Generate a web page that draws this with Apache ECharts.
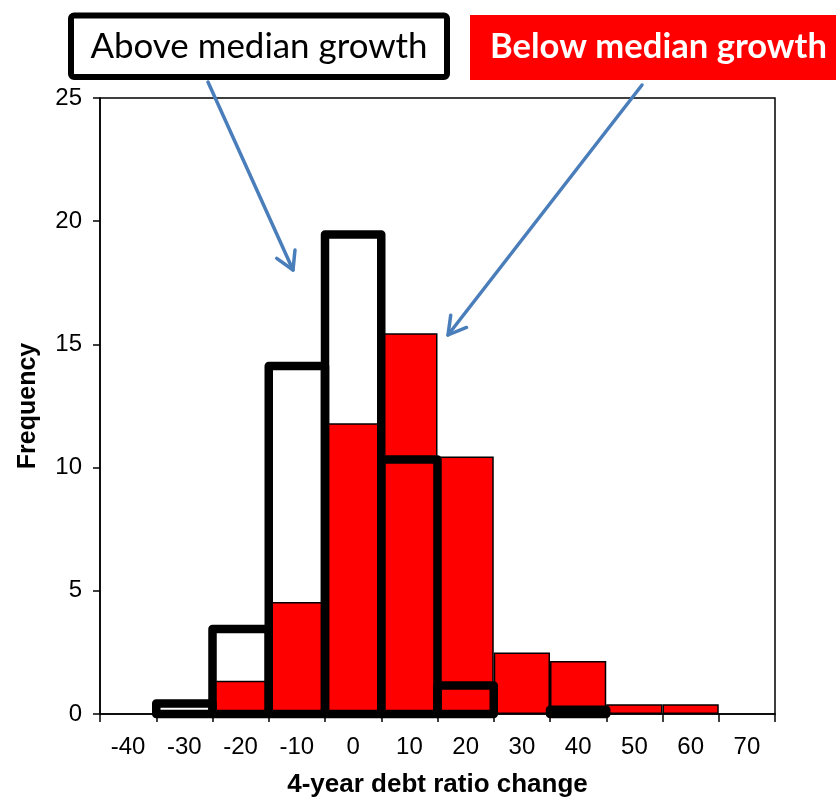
<!DOCTYPE html>
<html>
<head>
<meta charset="utf-8">
<script src="https://cdn.jsdelivr.net/npm/echarts@6/dist/echarts.min.js"></script>
<style>
  html, body { margin: 0; padding: 0; background: #fff; overflow: hidden; }
  #chart { width: 836px; height: 797px; }
</style>
</head>
<body>
<div id="chart"></div>
<script>
// Bin centres of the 4-year change in the debt ratio (percentage points)
const bins = ['-40', '-30', '-20', '-10', '0', '10', '20', '30', '40', '50', '60', '70'];

// Number of episodes per bin; null = empty bin
const belowMedian = [null, null, 1.35, 4.55, 11.8, 15.45, 10.45, 2.5, 2.15, 0.4, 0.4, null];
const aboveMedian = [null, 0.43, 3.45, 14.12, 19.46, 10.33, 1.16, null, 0.17, null, null, null];

const frequencyTicks = { min: 0, max: 25, interval: 5 };

const legendAbove = 'Above median growth';
const legendBelow = 'Below median growth';
const xTitle = '4-year debt ratio change';
const yTitle = 'Frequency';

const chart = echarts.init(document.getElementById('chart'), null, { renderer: 'canvas' });

// Pick a font size so a caption spans the given width
function fitSize(text, weight, family, width) {
  const ctx = document.createElement('canvas').getContext('2d');
  ctx.font = weight + ' 100px ' + family;
  return 100 * width / ctx.measureText(text).width;
}

// Open "V" arrow from (x0,y0) to the tip (x1,y1)
function arrow(x0, y0, x1, y1) {
  const dx = x1 - x0, dy = y1 - y0, len = Math.hypot(dx, dy);
  const ux = dx / len, uy = dy / len, head = 20, a = Math.PI / 6;
  const rot = (s) => [
    x1 - head * (ux * Math.cos(s * a) - uy * Math.sin(s * a)),
    y1 - head * (uy * Math.cos(s * a) + ux * Math.sin(s * a))
  ];
  const stroke = { stroke: '#4a7ebb', lineWidth: 3.5, fill: null, lineCap: 'round', lineJoin: 'round' };
  return [
    { type: 'polyline', z: 100, shape: { points: [[x0, y0], [x1, y1]] }, style: stroke },
    { type: 'polyline', z: 100, shape: { points: [rot(1), [x1, y1], rot(-1)] }, style: stroke }
  ];
}

// Heavy outline bar whose stroke is centred on the bin edges
function outlineBar(params, api) {
  const idx = api.value(0);
  const top = api.coord([idx, api.value(1)]);
  const base = api.coord([idx, 0]);
  const w = api.size([1, 0])[0];
  return {
    type: 'rect',
    shape: { x: top[0] - w / 2, y: top[1], width: w, height: base[1] - top[1] },
    style: { fill: 'none', stroke: '#000', lineWidth: 8.5, lineJoin: 'round' }
  };
}

const capFamily = 'Lato, "Open Sans", sans-serif';
const aboveSize = fitSize(legendAbove, 'normal', capFamily, 337);
const belowSize = fitSize(legendBelow, 'bold', capFamily, 337);

const axisFont = { fontFamily: 'Arial, "Liberation Sans", sans-serif', color: '#000' };

const aboveData = [];
aboveMedian.forEach((v, i) => { if (v != null) aboveData.push([i, v]); });

chart.setOption({
  animation: false,
  backgroundColor: '#fff',
  grid: {
    left: 100, right: 61, top: 98, bottom: 83,
    outerBoundsMode: 'none', containLabel: false,
    show: true, borderColor: '#000', borderWidth: 1.5, backgroundColor: 'transparent'
  },
  xAxis: {
    type: 'category',
    data: bins,
    boundaryGap: true,
    name: xTitle,
    nameLocation: 'middle',
    nameGap: 58,
    nameTextStyle: Object.assign({ fontSize: 26, fontWeight: 'bold' }, axisFont),
    axisLine: { lineStyle: { color: '#000', width: 1.5 } },
    axisTick: { show: true, inside: false, length: 8, lineStyle: { color: '#000', width: 1.5 } },
    axisLabel: Object.assign({ fontSize: 24, margin: 21 }, axisFont),
    splitLine: { show: false }
  },
  yAxis: {
    type: 'value',
    min: frequencyTicks.min,
    max: frequencyTicks.max,
    interval: frequencyTicks.interval,
    name: yTitle,
    nameLocation: 'middle',
    nameGap: 59,
    nameTextStyle: Object.assign({ fontSize: 25, fontWeight: 'bold' }, axisFont),
    axisLine: { show: true, lineStyle: { color: '#000', width: 1.5 } },
    axisTick: { show: true, inside: false, length: 7, lineStyle: { color: '#000', width: 1.5 } },
    axisLabel: Object.assign({ fontSize: 24, margin: 18 }, axisFont),
    splitLine: { show: false }
  },
  series: [
    {
      name: legendBelow,
      type: 'bar',
      data: belowMedian,
      barCategoryGap: 0,
      itemStyle: { color: '#ff0000', borderColor: '#000', borderWidth: 1.5 },
      z: 2
    },
    {
      name: legendAbove,
      type: 'custom',
      data: aboveData,
      renderItem: outlineBar,
      clip: false,
      z: 3
    }
  ],
  graphic: [
    {
      type: 'rect', z: 90,
      shape: { x: 71, y: 15.5, width: 376, height: 61.5, r: 3 },
      style: { fill: '#fff', stroke: '#000', lineWidth: 6 }
    },
    {
      type: 'text', z: 91, x: 259, y: 47,
      style: {
        text: legendAbove, fill: '#000', align: 'center', verticalAlign: 'middle',
        font: 'normal ' + aboveSize.toFixed(1) + 'px ' + capFamily
      }
    },
    {
      type: 'rect', z: 90,
      shape: { x: 470, y: 15, width: 366, height: 65 },
      style: { fill: '#ff0000' }
    },
    {
      type: 'text', z: 91, x: 658.5, y: 47,
      style: {
        text: legendBelow, fill: '#fff', align: 'center', verticalAlign: 'middle',
        font: 'bold ' + belowSize.toFixed(1) + 'px ' + capFamily
      }
    }
  ].concat(arrow(208, 82, 293, 270), arrow(642, 85, 448, 335))
});
</script>
</body>
</html>
